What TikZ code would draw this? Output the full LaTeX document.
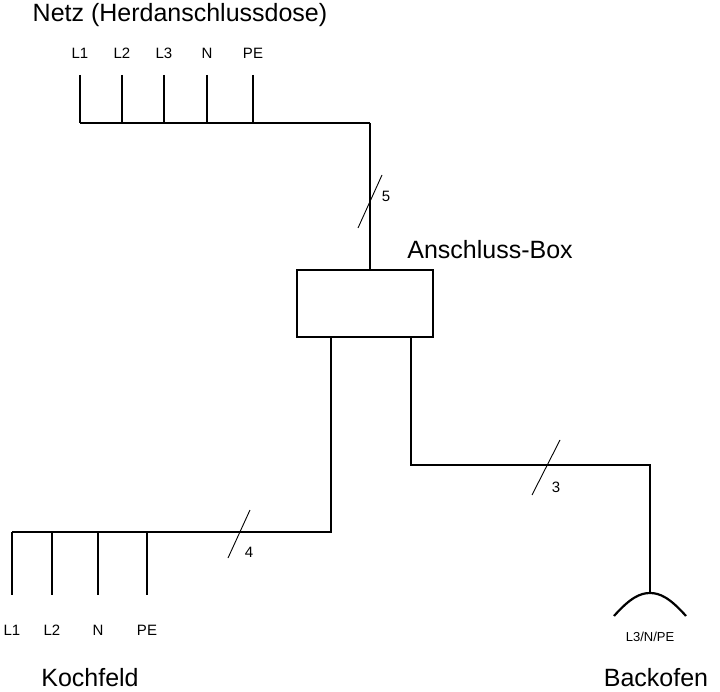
\documentclass[tikz,border=0pt]{standalone}
\usepackage{fontspec}
\setmainfont{Liberation Sans}
\begin{document}
\begin{tikzpicture}[x=1pt,y=-1pt,
  wire/.style={line width=2.2pt},
  lbl/.style={font=\fontsize{15}{17}\selectfont},
  big/.style={font=\fontsize{25}{28}\selectfont},
  sl/.style={line width=0.9pt}]
\useasboundingbox (0,0) rectangle (720,692);
\node[big] (netz) at (180,15) {Netz (Herdanschlussdose)};
\foreach \x/\t/\n in {80/L1/a,122/L2/b,164/L3/c,207/N/d,253/PE/e}{
  \node[lbl] (t\n) at (\x,53) {\t};
  \coordinate (u\n) at (\x,75);
  \coordinate (v\n) at (\x,123);
  \draw[wire] (u\n) -- (v\n);
}
\coordinate (tr) at (370,123);
\draw[wire] (va) -- (tr);
\node[draw,wire,minimum width=136pt,minimum height=67pt,inner sep=0] (box) at (365,303.5) {};
\node[big] (abox) at (490,250) {Anschluss-Box};
\draw[wire] (tr) -- (tr |- box.north);
\draw[sl] (358,228) -- (382,175);
\node[lbl] (n5) at (386,196) {5};
% left
\coordinate (bl) at (331,337);
\coordinate (bl2) at (331,532);
\draw[wire] (bl) -- (bl2) -- (12,532);
\foreach \x/\t/\n in {12/L1/a,52/L2/b,98/N/c,147/PE/d}{
  \coordinate (p\n) at (\x,532);
  \coordinate (q\n) at (\x,595);
  \draw[wire] (p\n) -- (q\n);
  \node[lbl] (k\n) at (\x,630) {\t};
}
\draw[sl] (228,558) -- (250,510);
\node[lbl] (n4) at (249,552) {4};
\node[big] (koch) at (90,678) {Kochfeld};
% right
\coordinate (br) at (411,337);
\coordinate (br2) at (411,465);
\coordinate (br3) at (650,465);
\coordinate (br4) at (650,594);
\draw[wire] (br) -- (br2) -- (br3) -- (br4);
\draw[sl] (532,495) -- (560,440);
\node[lbl] (n3) at (556,487) {3};
\draw[wire] (614,616) .. controls (630,598) and (640,593) .. (650,593) .. controls (660,593) and (670,598) .. (686,616);
\node[font=\fontsize{13}{15}\selectfont] (lnpe) at (650,637) {L3/N/PE};
\node[big] (back) at (656,678) {Backofen};
\end{tikzpicture}
\end{document}
